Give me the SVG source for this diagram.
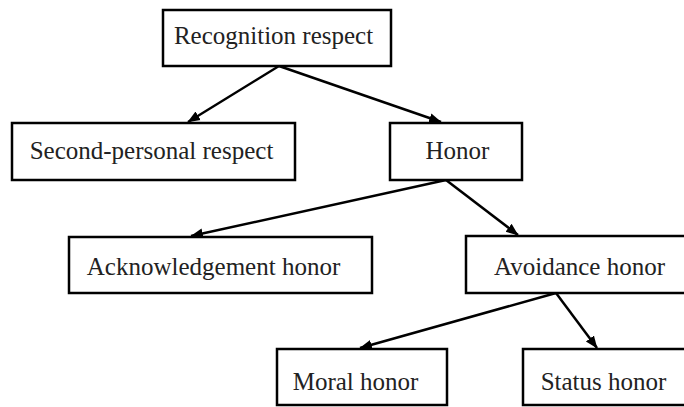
<svg xmlns="http://www.w3.org/2000/svg" width="684" height="407" viewBox="0 0 684 407">
<style>
.box{fill:#fff;stroke:#000;stroke-width:2.5}
.lbl{font-family:"Liberation Serif","Times New Roman",serif;font-size:25px;fill:#222;text-anchor:middle}
.edge{stroke:#000;stroke-width:2.5;fill:none;marker-end:url(#ah)}
</style>
<defs>
<marker id="ah" viewBox="0 0 10 10" refX="9.5" refY="5" markerWidth="5" markerHeight="5" orient="auto" markerUnits="strokeWidth">
<path d="M0,1 L10,5 L0,9 Z" fill="#000"/>
</marker>
</defs>
<rect width="684" height="407" fill="#fff"/>
<g id="connectors">
<line class="edge" x1="279" y1="66" x2="188" y2="122"/>
<line class="edge" x1="279" y1="66" x2="441" y2="122"/>
<line class="edge" x1="446" y1="180" x2="191" y2="236"/>
<line class="edge" x1="446" y1="180" x2="518" y2="235"/>
<line class="edge" x1="556" y1="293" x2="360" y2="348"/>
<line class="edge" x1="556" y1="293" x2="597" y2="348"/>
</g>
<g id="n-recognition"><rect class="box" x="163" y="10" width="228" height="56"/><text class="lbl" x="273.5" y="44">Recognition respect</text></g>
<g id="n-second"><rect class="box" x="12" y="123" width="283" height="57"/><text class="lbl" x="151.5" y="159">Second-personal respect</text></g>
<g id="n-honor"><rect class="box" x="390" y="123" width="132" height="57"/><text class="lbl" x="457.5" y="159">Honor</text></g>
<g id="n-acknowledgement"><rect class="box" x="69" y="237" width="303" height="56"/><text class="lbl" x="213.5" y="275">Acknowledgement honor</text></g>
<g id="n-avoidance"><rect class="box" x="466" y="236" width="230" height="57"/><text class="lbl" x="579.5" y="275">Avoidance honor</text></g>
<g id="n-moral"><rect class="box" x="277" y="349" width="170" height="56"/><text class="lbl" x="355.5" y="390">Moral honor</text></g>
<g id="n-status"><rect class="box" x="523" y="349" width="175" height="56"/><text class="lbl" x="603.5" y="390">Status honor</text></g>
</svg>
